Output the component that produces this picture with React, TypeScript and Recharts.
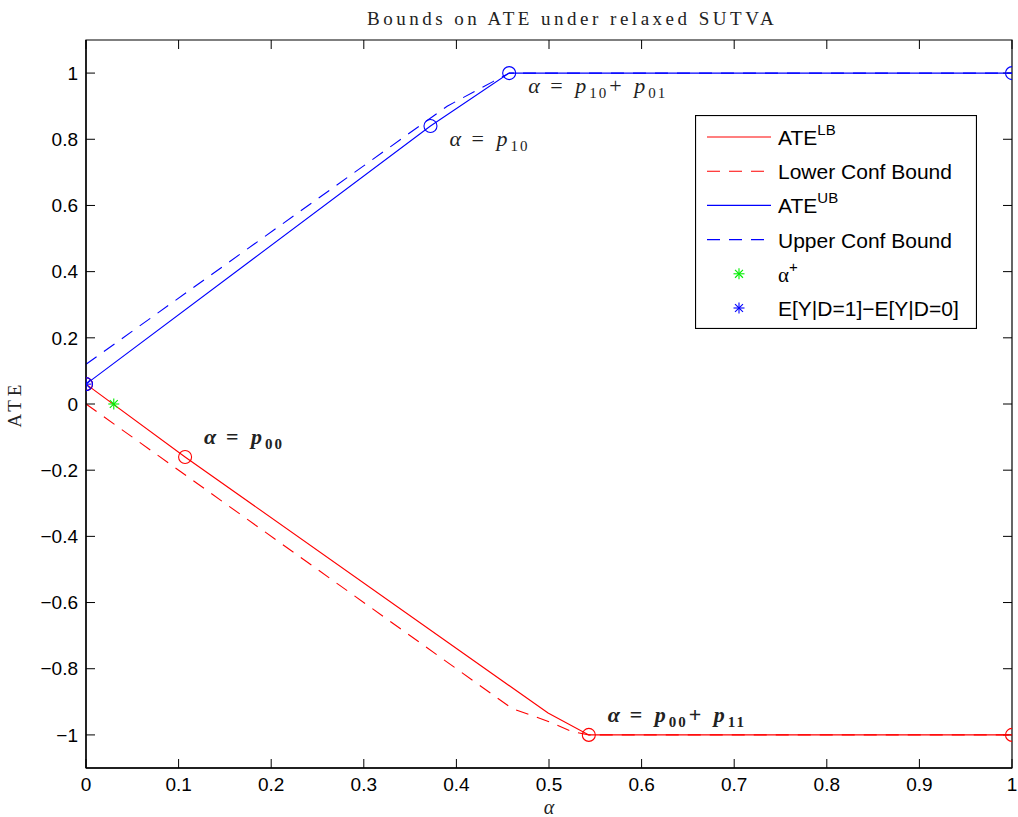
import React from "react";
import { ComposedChart, Line, Scatter, XAxis, YAxis, Legend, ReferenceArea, ReferenceLine } from "recharts";

// ATE lower bound and its confidence bound (red)
const lbX = [0, 0.107, 0.499, 0.543, 1];
const lbY = [0.06, -0.16, -0.934, -1, -1];
const lcbX = [0, 0.46, 0.5, 0.525, 0.543, 1];
const lcbY = [0, -0.92, -0.96, -0.99, -1, -1];

// ATE upper bound and its confidence bound (blue)
const ubX = [0, 0.372, 0.457, 1];
const ubY = [0.06, 0.84, 1, 1];
const ucbX = [0, 0.39, 0.44, 0.457, 1];
const ucbY = [0.12, 0.9, 0.975, 1, 1];

// circle markers at the kinks
const redCircX = [0, 0.107, 0.543, 1];
const redCircY = [0.06, -0.16, -1, -1];
const blueCircX = [0, 0.372, 0.457, 1];
const blueCircY = [0.06, 0.84, 1, 1];

// star markers
const alphaPlusX = [0.03];
const alphaPlusY = [0];
const diffX = [0];
const diffY = [0.06];

// annotations
const annX = [0.372, 0.457, 0.107, 0.543];
const annY = [0.84, 1, -0.16, -1];
const annSubs = [["10"], ["10", "01"], ["00"], ["00", "11"]];
const annBold = [false, false, true, true];
const annBelow = [true, true, false, false];

const xTicks = [0, 0.1, 0.2, 0.3, 0.4, 0.5, 0.6, 0.7, 0.8, 0.9, 1];
const yTicks = [-1, -0.8, -0.6, -0.4, -0.2, 0, 0.2, 0.4, 0.6, 0.8, 1];
const X_DOMAIN = [0, 1];
const Y_DOMAIN = [-1.1, 1.1];

const W = 1018;
const H = 817;
const MARGIN = { top: 40, right: 6, bottom: 0, left: 0 };
const Y_AXIS_W = 86;
const X_AXIS_H = 49;
const TICK = 9;
// tick length in data units, for the inward ticks on the top and right sides
const plotW = W - MARGIN.left - MARGIN.right - Y_AXIS_W;
const plotH = H - MARGIN.top - MARGIN.bottom - X_AXIS_H;
const tickDX = (TICK * (X_DOMAIN[1] - X_DOMAIN[0])) / plotW;
const tickDY = (TICK * (Y_DOMAIN[1] - Y_DOMAIN[0])) / plotH;

const RED = "#ff0000";
const BLUE = "#0000ff";
const GREEN = "#00ee00";
const DASH = "13 9";
const SANS = "'Liberation Sans', Arial, Helvetica, sans-serif";
const SERIF = "'Liberation Serif', 'Times New Roman', serif";

const pts = (xs: number[], ys: number[]) => xs.map((x, i) => ({ x, y: ys[i] }));

const annData = annX.map((x, i) => ({
  x,
  y: annY[i],
  subs: annSubs[i],
  bold: annBold[i],
  below: annBelow[i],
}));

const circle = (color: string) => (p: any) =>
  <circle cx={p.cx} cy={p.cy} r={6.5} fill="none" stroke={color} strokeWidth={1.1} />;

const starPath = (cx: number, cy: number, color: string, r = 5.5) => (
  <g stroke={color} strokeWidth={1.1}>
    <line x1={cx - r} y1={cy} x2={cx + r} y2={cy} />
    <line x1={cx} y1={cy - r} x2={cx} y2={cy + r} />
    <line x1={cx - r * 0.72} y1={cy - r * 0.72} x2={cx + r * 0.72} y2={cy + r * 0.72} />
    <line x1={cx - r * 0.72} y1={cy + r * 0.72} x2={cx + r * 0.72} y2={cy - r * 0.72} />
  </g>
);

const star = (color: string) => (p: any) => starPath(p.cx, p.cy, color);

const AnnShape = (p: any) => {
  const { cx, cy, payload } = p;
  const x0 = cx + 19;
  const y0 = cy + (payload.below ? 20 : -13);
  const subs: string[] = payload.subs;
  return (
    <text fontFamily={SERIF} fontSize={22} fill="#222" fontWeight={payload.bold ? "bold" : "normal"}>
      <tspan x={x0} y={y0} fontStyle="italic">α</tspan>
      <tspan x={x0 + 22} y={y0}>=</tspan>
      <tspan x={x0 + 47} y={y0} fontStyle="italic">p</tspan>
      <tspan x={x0 + 61} y={y0 + 5} fontSize={15} letterSpacing={2}>{subs[0]}</tspan>
      {subs.length > 1 && (
        <>
          <tspan x={x0 + 81} y={y0}>+</tspan>
          <tspan x={x0 + 106} y={y0} fontStyle="italic">p</tspan>
          <tspan x={x0 + 120} y={y0 + 5} fontSize={15} letterSpacing={2}>{subs[1]}</tspan>
        </>
      )}
    </text>
  );
};

const legendRows = [
  { kind: "line", color: RED, dash: undefined, label: "ATE", sup: "LB" },
  { kind: "line", color: RED, dash: DASH, label: "Lower Conf Bound" },
  { kind: "line", color: BLUE, dash: undefined, label: "ATE", sup: "UB" },
  { kind: "line", color: BLUE, dash: DASH, label: "Upper Conf Bound" },
  { kind: "star", color: GREEN, label: "α", sup: "+" },
  { kind: "star", color: BLUE, label: "E[Y|D=1]−E[Y|D=0]" },
];

const renderLegend = () => (
  <svg width={282} height={214} style={{ display: "block" }}>
    <rect x={0.5} y={0.5} width={281} height={213} fill="#fff" stroke="#000" strokeWidth={1.2} />
    {legendRows.map((r, i) => {
      const cy = 22 + i * 34.2;
      return (
        <g key={i}>
          {r.kind === "line" ? (
            <line x1={12} y1={cy} x2={76} y2={cy} stroke={r.color} strokeWidth={1.1} strokeDasharray={r.dash} />
          ) : (
            starPath(44, cy, r.color)
          )}
          <text x={83} y={cy + 8} fontFamily={SANS} fontSize={21} fill="#000">
            {r.label === "α" ? <tspan fontFamily={SERIF}>α</tspan> : r.label}
            {r.sup && (
              <tspan dy={-10} fontSize={15}>{r.sup}</tspan>
            )}
          </text>
        </g>
      );
    })}
  </svg>
);

export default function App() {
  return (
    <div style={{ position: "absolute", left: 0, top: 0, width: W, height: H, background: "#fff", fontFamily: SANS }}>
      <div
        style={{
          position: "absolute",
          left: 367,
          top: 8,
          whiteSpace: "nowrap",
          fontFamily: SERIF,
          fontSize: 19,
          letterSpacing: 3.5,
          color: "#222",
          lineHeight: "22px",
        }}
      >
        Bounds on ATE under relaxed SUTVA
      </div>
      <ComposedChart width={W} height={H} margin={MARGIN}>
        <XAxis
          dataKey="x"
          type="number"
          domain={X_DOMAIN}
          ticks={xTicks}
          allowDataOverflow
          height={X_AXIS_H}
          tickSize={-TICK}
          tickMargin={19}
          axisLine={{ stroke: "#000", strokeWidth: 1.3 }}
          tickLine={{ stroke: "#000" }}
          tick={{ fill: "#000", fontSize: 19, fontFamily: SANS }}
          label={{
            content: (p: any) => {
              const vb = p.viewBox;
              return (
                <text x={vb.x + vb.width / 2} y={vb.y + 46} textAnchor="middle" fontFamily={SERIF} fontStyle="italic" fontSize={20} fill="#222">
                  α
                </text>
              );
            },
          }}
        />
        <YAxis
          dataKey="y"
          type="number"
          domain={Y_DOMAIN}
          ticks={yTicks}
          allowDataOverflow
          width={Y_AXIS_W}
          tickSize={-TICK}
          tickMargin={17}
          axisLine={{ stroke: "#000", strokeWidth: 1.3 }}
          tickLine={{ stroke: "#000" }}
          tick={{ fill: "#000", fontSize: 19, fontFamily: SANS }}
          tickFormatter={(v: number) => String(v).replace("-", "−")}
          label={{
            content: (p: any) => {
              const vb = p.viewBox;
              const cx = vb.x + 21;
              const cy = vb.y + vb.height / 2;
              return (
                <text x={cx} y={cy} textAnchor="middle" transform={`rotate(-90 ${cx} ${cy})`} fontFamily={SERIF} fontSize={19} letterSpacing={4} fill="#222">
                  ATE
                </text>
              );
            },
          }}
        />

        {/* box around the plot area */}
        <ReferenceArea x1={X_DOMAIN[0]} x2={X_DOMAIN[1]} y1={Y_DOMAIN[0]} y2={Y_DOMAIN[1]} fill="none" stroke="#000" strokeWidth={1.2} ifOverflow="visible" />

        {/* inward ticks on top and right sides */}
        {xTicks.map((t) => (
          <ReferenceLine
            key={`tx${t}`}
            segment={[{ x: t, y: Y_DOMAIN[1] }, { x: t, y: Y_DOMAIN[1] - tickDY }]}
            stroke="#000"
            strokeWidth={1}
            ifOverflow="visible"
          />
        ))}
        {yTicks.map((t) => (
          <ReferenceLine
            key={`ty${t}`}
            segment={[{ x: X_DOMAIN[1], y: t }, { x: X_DOMAIN[1] - tickDX, y: t }]}
            stroke="#000"
            strokeWidth={1}
            ifOverflow="visible"
          />
        ))}

        <Line data={pts(lcbX, lcbY)} dataKey="y" stroke={RED} strokeWidth={1.1} strokeDasharray={DASH} dot={false} activeDot={false} isAnimationActive={false} />
        <Line data={pts(lbX, lbY)} dataKey="y" stroke={RED} strokeWidth={1.1} dot={false} activeDot={false} isAnimationActive={false} />
        <Line data={pts(ucbX, ucbY)} dataKey="y" stroke={BLUE} strokeWidth={1.1} strokeDasharray={DASH} dot={false} activeDot={false} isAnimationActive={false} />
        <Line data={pts(ubX, ubY)} dataKey="y" stroke={BLUE} strokeWidth={1.1} dot={false} activeDot={false} isAnimationActive={false} />

        <Scatter data={pts(redCircX, redCircY)} dataKey="y" shape={circle(RED)} isAnimationActive={false} />
        <Scatter data={pts(blueCircX, blueCircY)} dataKey="y" shape={circle(BLUE)} isAnimationActive={false} />
        <Scatter data={pts(alphaPlusX, alphaPlusY)} dataKey="y" shape={star(GREEN)} isAnimationActive={false} />
        <Scatter data={pts(diffX, diffY)} dataKey="y" shape={star(BLUE)} isAnimationActive={false} />
        <Scatter data={annData} dataKey="y" shape={AnnShape} isAnimationActive={false} />

        <Legend
          layout="vertical"
          align="center"
          verticalAlign="middle"
          content={renderLegend}
          wrapperStyle={{ left: 695, top: 115, width: 282, height: 214 }}
        />
      </ComposedChart>
    </div>
  );
}
